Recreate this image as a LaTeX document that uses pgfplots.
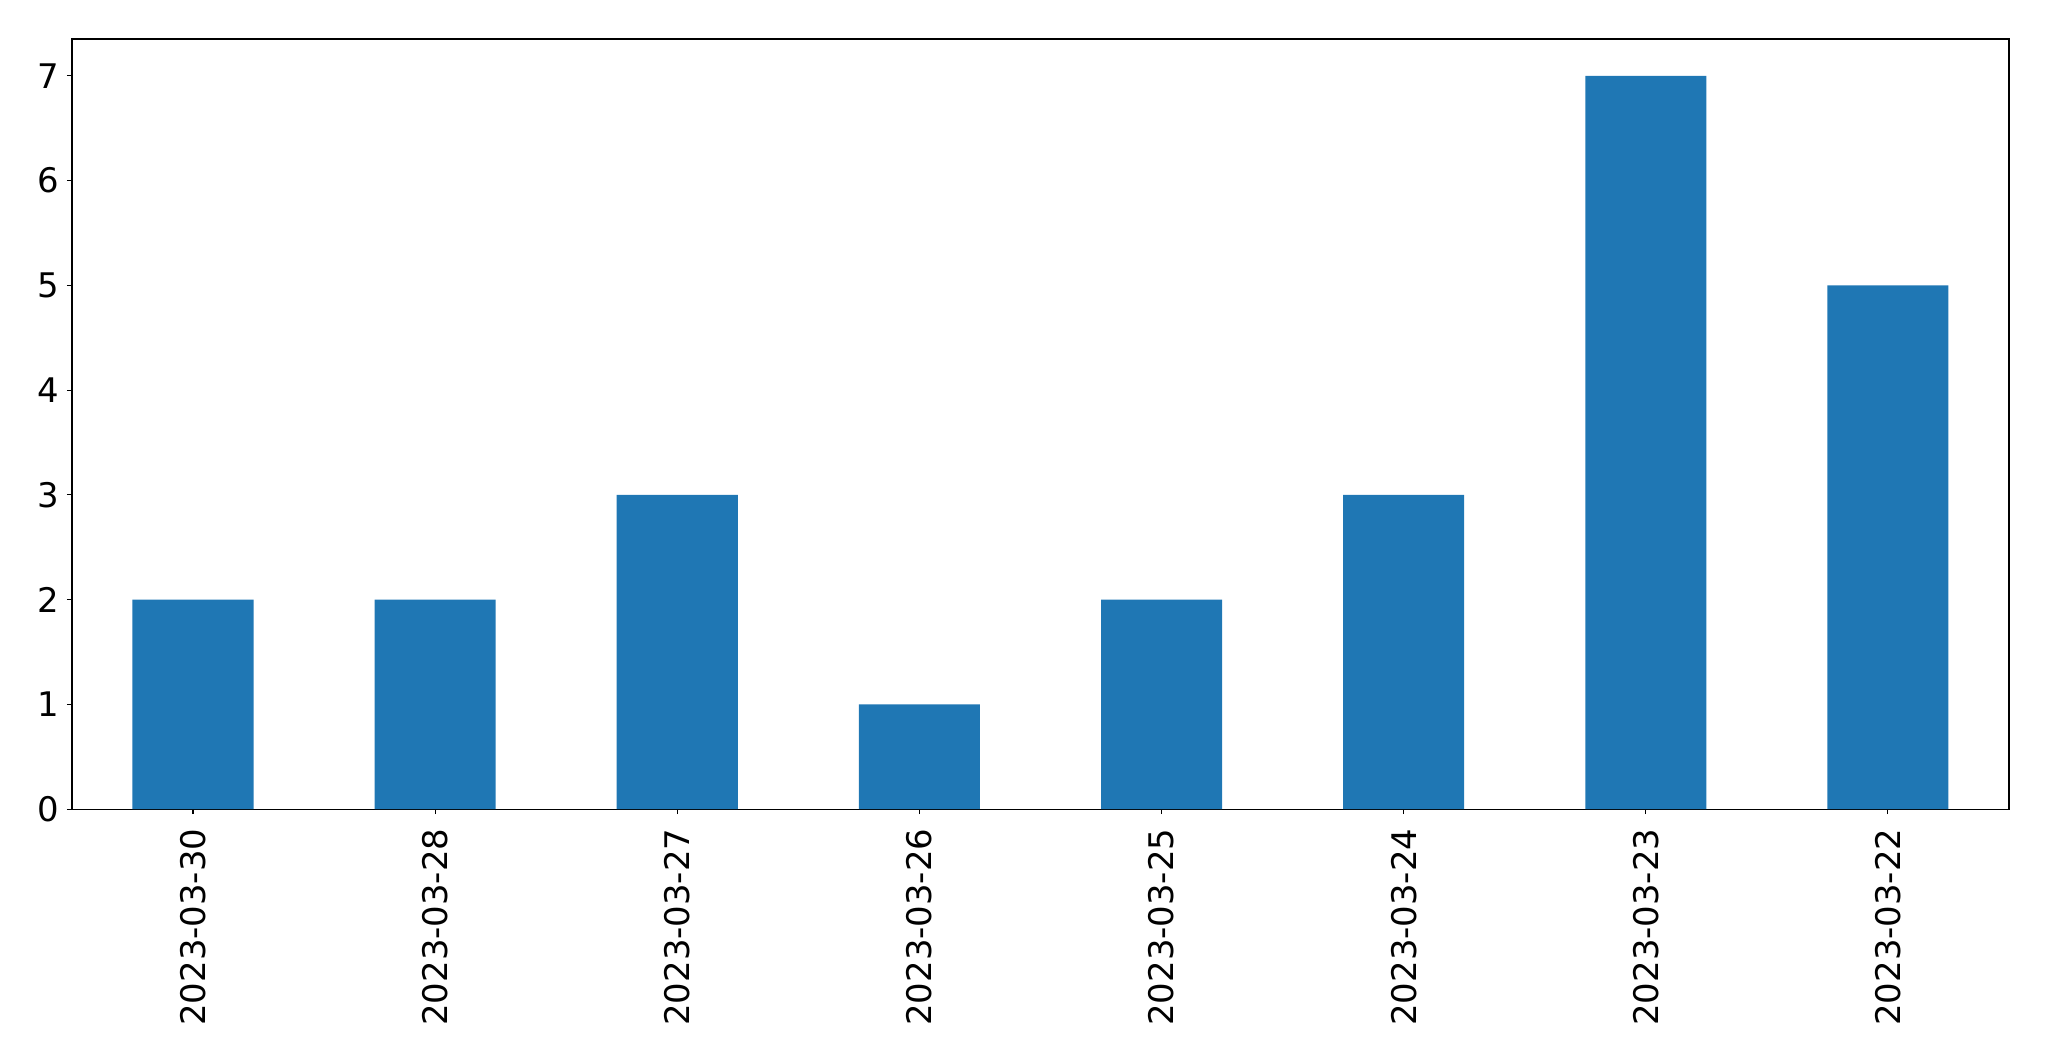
\documentclass[border=0pt]{standalone}
\usepackage{pgfplots}
\pgfplotsset{compat=1.18}
\usepackage{fontspec}
\setmainfont{DejaVu Sans}
\definecolor{barblue}{HTML}{1F77B4}

\begin{document}
\begin{tikzpicture}[x=1pt,y=1pt]
\begin{axis}[
scale only axis,
width=697.3pt,height=277.2pt,
ymin=0,ymax=7.35,
xmin=-0.5,xmax=7.5,
ytick={0,1,...,7},
xtick=data,
xticklabels={2023-03-30,2023-03-28,2023-03-27,2023-03-26,2023-03-25,2023-03-24,2023-03-23,2023-03-22},
x tick label style={rotate=90,anchor=east,font=\fontsize{12.2}{14}\selectfont,inner sep=1pt,xshift=0pt,yshift=0pt},
y tick label style={font=\fontsize{12.2}{14}\selectfont,inner sep=1pt},
/pgf/number format/assume math mode=true,
tick align=outside,
tick pos=left,
major tick length=1.8pt,
every tick/.style={black,line width=0.4pt},
axis line style={line width=0.5pt},
xticklabel shift=4pt,
yticklabel shift=1.5pt,
]
\addplot[ybar,bar width=0.5,fill=barblue,draw=none] coordinates {
(0,2)(1,2)(2,3)(3,1)(4,2)(5,3)(6,7)(7,5)
};
\end{axis}
\path (current axis.south west) ++(-25.9pt,-90.7pt) rectangle ++(737.6pt,382pt);
\end{tikzpicture}
\end{document}
